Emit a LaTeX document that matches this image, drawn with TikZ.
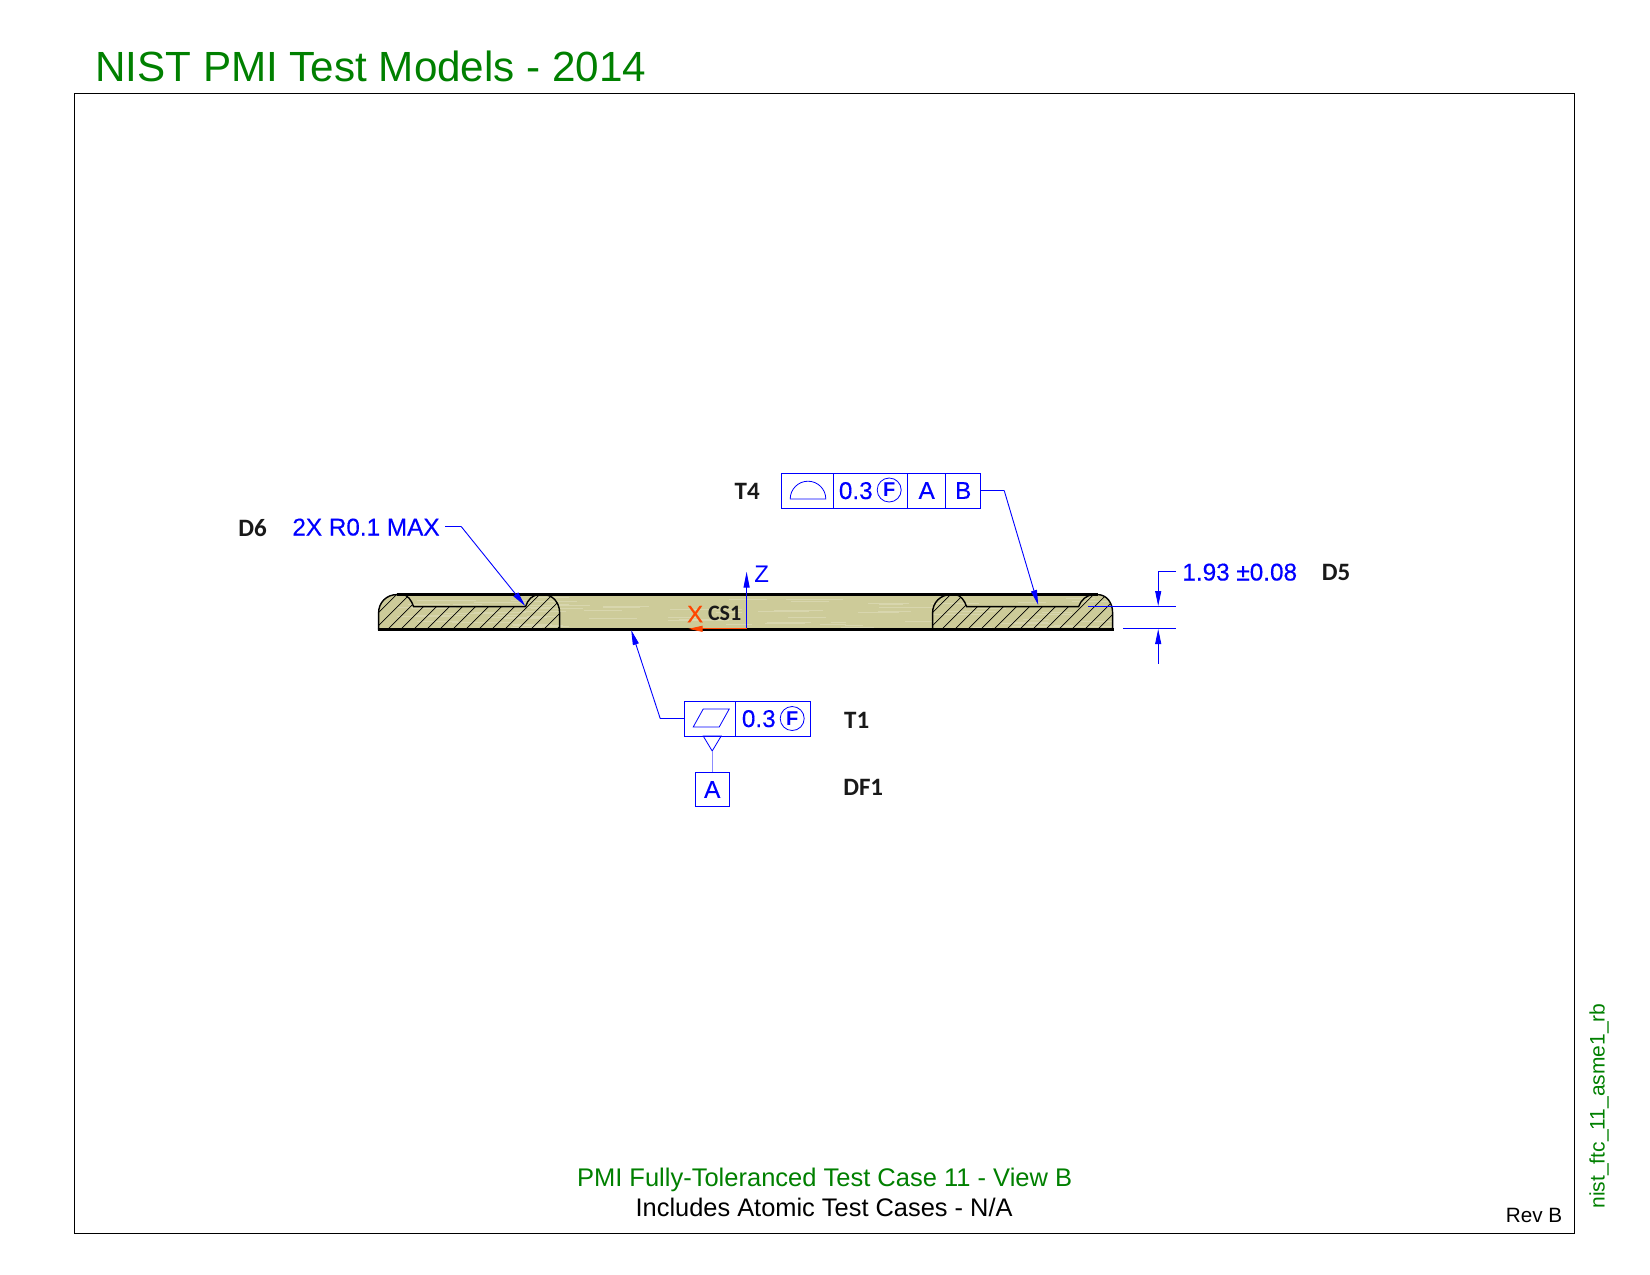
\documentclass[tikz,border=0pt]{standalone}
\usepackage{fontspec}
\setmainfont{Liberation Sans}
\newfontfamily\lblfont{Carlito}
\newfontfamily\dimfont[FakeBold=0.3]{Liberation Sans}
\usetikzlibrary{arrows.meta}
\definecolor{ngreen}{RGB}{0,128,0}
\definecolor{wood}{RGB}{205,203,153}
\definecolor{streak}{RGB}{216,214,174}
\definecolor{axisred}{RGB}{255,69,0}
\tikzset{
  x=1pt,y=-1pt,
  lead/.style={draw=blue,line width=0.9pt},
  tipd/.style={-{Triangle[length=15pt,width=6pt]}},
  cell/.style={draw=blue,line width=1pt,minimum height=35pt,inner sep=0pt,outer sep=0pt},
  bt/.style={text=blue,inner sep=0pt,font=\dimfont\fontsize{24.3}{24.3}\selectfont},
  tag/.style={inner sep=0pt,text=black!90,font=\lblfont\bfseries\fontsize{25}{25}\selectfont},
  circF/.style={circle,draw=blue,line width=0.8pt,minimum size=24pt,inner sep=0pt,text=blue,font=\bfseries\fontsize{20}{20}\selectfont},
  sym/.style={draw=blue,line width=0.8pt},
  hatchl/.style={black,line width=0.7pt},
  outl/.style={black,line width=1.4pt},
  heavy/.style={black,line width=2.4pt}
}
\newcommand{\leftsec}{(378,629) -- (378,612) .. controls (378,602) and (386,594) .. (396,594) -- (402,594) .. controls (407,594) and (411,600) .. (413,606) -- (525,606) .. controls (527,599) and (532,594) .. (539,594) -- (543,594) .. controls (552,594) and (559,602) .. (559,612) -- (559,629) -- cycle}
\newcommand{\rightsec}{(932,629) -- (932,612) .. controls (932,602) and (940,594) .. (950,594) -- (954,594) .. controls (960,594) and (964,600) .. (966,606) -- (1078,606) .. controls (1080,600) and (1086,594) .. (1093,594) -- (1097,594) .. controls (1106,594) and (1112,602) .. (1112,612) -- (1112,629) -- cycle}
\begin{document}
\begin{tikzpicture}
\useasboundingbox (0,0) rectangle (1650,1275);
\fill[white] (0,0) rectangle (1650,1275);

\node[anchor=base west,inner sep=0pt,text=ngreen,font=\fontsize{42.2}{42.2}\selectfont] (title) at (95,81) {NIST PMI Test Models - 2014};

\begin{scope}[shift={(0.6,0.6)}]
% frame and title block
\draw[black,line width=1.2pt] (73.5,92.9) rectangle (1574,1233);
\node[anchor=base,inner sep=0pt,text=ngreen,font=\fontsize{25.5}{25.5}\selectfont] (sub) at (824,1186) {PMI Fully-Toleranced Test Case 11 - View B};
\node[anchor=base,inner sep=0pt,text=black,font=\fontsize{25.4}{25.4}\selectfont] (atc) at (823.5,1216) {Includes Atomic Test Cases - N/A};
\node[anchor=base west,inner sep=0pt,text=black,font=\fontsize{20.7}{20.7}\selectfont] (rev) at (1505,1222) {Rev B};
\node[anchor=base west,rotate=90,inner sep=0pt,text=ngreen,font=\fontsize{21}{21}\selectfont] (fname) at (1604,1208) {nist\_ftc\_11\_asme1\_rb};

% part body
\fill[wood] (378,629) -- (378,612) .. controls (378,602) and (386,594) .. (396,594) -- (1097,594) .. controls (1106,594) and (1112,602) .. (1112,612) -- (1112,629) -- cycle;
\begin{scope}
\clip (378,629) -- (378,612) .. controls (378,602) and (386,594) .. (396,594) -- (1097,594) .. controls (1106,594) and (1112,602) .. (1112,612) -- (1112,629) -- cycle;
\pgfmathsetseed{2014}
\foreach \i in {1,...,80}{
  \pgfmathsetmacro{\sx}{390+rnd*700}
  \pgfmathsetmacro{\sy}{597+rnd*30}
  \pgfmathsetmacro{\sl}{12+rnd*50}
  \draw[streak,line width=0.7pt] (\sx,\sy) -- ++(\sl,0);
}
\end{scope}
\begin{scope}
\clip \leftsec;
\foreach \k in {0,...,19}{\draw[hatchl] (\k*13+340,650) -- ++(62,-62);}
\end{scope}
\begin{scope}
\clip \rightsec;
\foreach \k in {0,...,19}{\draw[hatchl] (\k*13+894,650) -- ++(62,-62);}
\end{scope}
\draw[outl] \leftsec;
\draw[outl] \rightsec;
\draw[heavy] (396,594) -- (1097,594);
\draw[heavy] (377,629) -- (1113,629);

% CS1 triad
\coordinate (csO) at (746,628.2);
\coordinate (zTip) at (746,571);
\coordinate (xTip) at (688,628.2);
\draw[draw=blue,line width=1pt,-{Triangle[length=16pt,width=6pt]}] (csO) -- (zTip);
\draw[draw=axisred,line width=0.8pt,-{Triangle[length=14pt,width=6pt]}] (csO) -- (xTip);
\node[bt,font=\fontsize{24}{24}\selectfont] (zlab) at (761,574) {Z};
\node[inner sep=0pt,text=axisred,font=\dimfont\fontsize{24}{24}\selectfont] (xlab) at (694.5,613.5) {X};
\node[tag,font=\lblfont\bfseries\fontsize{22}{22}\selectfont] (cs1) at (724,613) {CS1};

\begin{scope}[shift={(-0.4,-0.6)}]
% D6
\node[tag] (d6) at (252.5,528) {D6};
\node[bt,anchor=base west] (d6txt) at (292,535.5) {2X R0.1 MAX};
\coordinate (d6k) at (461,526.5);
\coordinate (d6t) at (525,606);
\draw[lead] (445,526.5) -- (d6k);
\draw[lead,tipd] (d6k) -- (d6t);

% T4
\node[tag] (t4) at (747,491) {T4};
\node[cell,minimum width=52pt,anchor=west] (t4a) at (781.5,490.5) {};
\node[cell,minimum width=74pt,anchor=west] (t4b) at (t4a.east) {};
\node[cell,minimum width=38pt,anchor=west] (t4c) at (t4b.east) {};
\node[cell,minimum width=35pt,anchor=west] (t4d) at (t4c.east) {};
\draw[sym] (790,499) arc[start angle=180,end angle=360,radius=17.8] -- cycle;
\node[bt,anchor=base west] (t4v) at (838.5,499) {0.3};
\node[circF] (t4f) at (889,490) {F};
\node[bt] (t4A) at (t4c) {A};
\node[bt] (t4B) at (t4d) {B};
\coordinate (t4k) at (1004,490.5);
\coordinate (t4tip) at (1038,605);
\draw[lead] (t4d.east) -- (t4k);
\draw[lead,tipd] (t4k) -- (t4tip);

% T1
\node[tag] (t1) at (856.5,720) {T1};
\node[cell,minimum width=51pt,anchor=west] (t1a) at (684,718.5) {};
\node[cell,minimum width=75pt,anchor=west] (t1b) at (t1a.east) {};
\draw[sym] (693,727) -- (719,727) -- (729,709) -- (703,709) -- cycle;
\node[bt,anchor=base west] (t1v) at (741.5,727) {0.3};
\node[circF] (t1f) at (792,718.5) {F};
\coordinate (t1k) at (660,718.5);
\coordinate (t1tip) at (631,630);
\draw[lead] (t1a.west) -- (t1k);
\draw[lead,tipd] (t1k) -- (t1tip);

% datum feature
\node[cell,minimum width=34pt,minimum height=34pt] (dfA) at (712,789) {};
\node[bt] (dfAt) at (712,789.5) {A};
\node[tag] (df1) at (863,787.5) {DF1};
\coordinate (triT) at (712,751);
\draw[sym] (703,736) -- (721,736) -- (triT) -- cycle;
\draw[draw=blue!45,line width=1.4pt] (triT) -- (dfA.north);

% D5
\node[bt,anchor=base west] (d5txt) at (1182,580.5) {1.93 ±0.08};
\node[tag] (d5) at (1336,572.5) {D5};
\coordinate (e1a) at (1088,606);
\coordinate (e1b) at (1176,606);
\coordinate (e2a) at (1123,628.5);
\coordinate (e2b) at (1176,628.5);
\coordinate (dimU) at (1176,571);
\coordinate (dimK) at (1158,571);
\coordinate (dimUt) at (1158,606);
\coordinate (dimL) at (1158,663.5);
\coordinate (dimLt) at (1158,629);
\draw[lead] (e1a) -- (e1b);
\draw[lead] (e2a) -- (e2b);
\draw[lead] (dimU) -- (dimK);
\draw[lead,tipd] (dimK) -- (dimUt);
\draw[lead,tipd] (dimL) -- (dimLt);
\end{scope}
\end{scope}
\end{tikzpicture}
\end{document}
